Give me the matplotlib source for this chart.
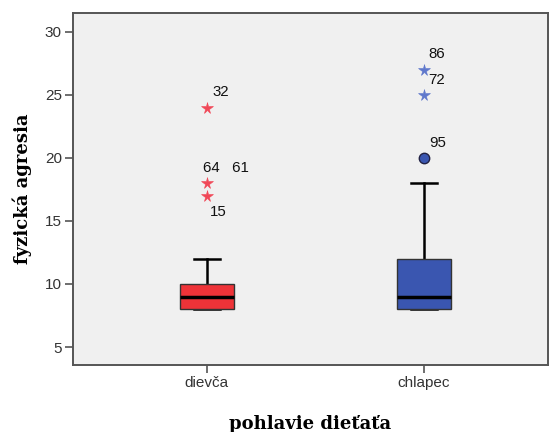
import matplotlib
matplotlib.use("Agg")
import matplotlib.pyplot as plt

categories = ["dievča", "chlapec"]
whislo = [8, 8]
q1 = [8, 8]
med = [9, 9]
q3 = [10, 12]
whishi = [12, 18]
box_colors = ["#EE3338", "#3A56B0"]
star_colors = ["#F04858", "#5F78CC"]

# extreme values (stars) and outliers (circles): (category index, value, label)
extreme_cat = [0, 0, 0, 1, 1]
extreme_val = [24, 18, 17, 27, 25]
extreme_lab = ["32", "64   61", "15", "86", "72"]
outlier_cat = [1]
outlier_val = [20]
outlier_lab = ["95"]

label_offsets = {"32": (4, 11), "64   61": (-3, 11), "15": (2, -12), "86": (3, 11), "72": (3, 11), "95": (4, 11)}

fig = plt.figure(figsize=(5.49, 4.32), dpi=100)
ax = fig.add_axes([0.133, 0.155, 0.865, 0.815])
ax.set_facecolor("#F0F0F0")

positions = [1, 2]
stats = []
for i, c in enumerate(categories):
    stats.append(dict(label=c, whislo=whislo[i], q1=q1[i], med=med[i], q3=q3[i], whishi=whishi[i], fliers=[]))

bp = ax.bxp(stats, positions=positions, widths=0.25, patch_artist=True, showfliers=False,
            boxprops=dict(edgecolor="#333333", linewidth=1.0),
            medianprops=dict(color="black", linewidth=2.5),
            whiskerprops=dict(color="black", linewidth=1.8),
            capprops=dict(color="black", linewidth=1.8), capwidths=0.12)
for patch, col in zip(bp["boxes"], box_colors):
    patch.set_facecolor(col)
    patch.set_zorder(3)
for cap in bp["caps"]:
    cap.set_zorder(2.5)
for m in bp["medians"]:
    m.set_zorder(3.5)

txt_kw = dict(fontsize=10.8, family="Liberation Sans", color="#111111", ha="left", va="center")
for c, v, lab in zip(extreme_cat, extreme_val, extreme_lab):
    x = positions[c]
    ax.plot(x, v, marker="*", color=star_colors[c], markersize=8.5, markeredgewidth=0.4,
            linestyle="none", zorder=4)
    ax.annotate(lab, (x, v), xytext=label_offsets[lab], textcoords="offset points", **txt_kw)

for c, v, lab in zip(outlier_cat, outlier_val, outlier_lab):
    x = positions[c]
    ax.plot(x, v, marker="o", color=box_colors[c], markersize=7.5, markeredgecolor="#222244",
            markeredgewidth=1.0, linestyle="none", zorder=4)
    ax.annotate(lab, (x, v), xytext=label_offsets[lab], textcoords="offset points", **txt_kw)

ax.set_xlim(0.383, 2.571)
ax.set_ylim(3.57, 31.5)
ax.set_yticks([5, 10, 15, 20, 25, 30])
ax.set_xticks(positions)
ax.set_xticklabels(categories)
for lbl in ax.get_xticklabels() + ax.get_yticklabels():
    lbl.set_family("Liberation Sans")
    lbl.set_fontsize(11)
    lbl.set_color("#333333")
ax.tick_params(axis="both", length=6, width=1.2, color="#555555", pad=2)

for s in ax.spines.values():
    s.set_color("#555555")
    s.set_linewidth(1.4)

ax.set_xlabel("pohlavie dieťaťa", family="DejaVu Serif", fontweight="bold", fontsize=13, labelpad=18)
ax.set_ylabel("fyzická agresia", family="DejaVu Serif", fontweight="bold", fontsize=13, labelpad=9)

fig.savefig("out.png", dpi=100)
